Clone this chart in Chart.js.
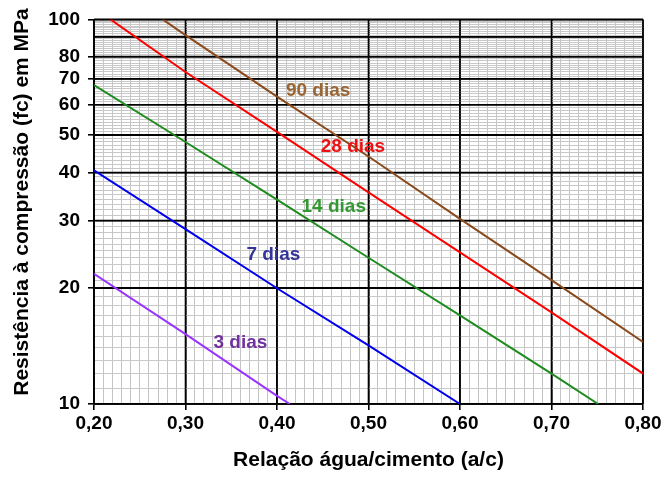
<!DOCTYPE html>
<html>
<head>
<meta charset="utf-8">
<script src="https://cdn.jsdelivr.net/npm/chart.js"></script>
<style>
  body { margin: 0; background: #fff; }
  #box { width: 672px; height: 487px; }
</style>
</head>
<body>
<div id="box"><canvas id="grafico"></canvas></div>
<script>
// curvas de Abrams (a/c -> fc em MPa)
const idades = ['90 dias', '28 dias', '14 dias', '7 dias', '3 dias'];

const ac90 = [0.275, 0.30, 0.40, 0.50, 0.60, 0.70, 0.80];
const fc90 = [100, 91, 63, 44, 30.3, 21, 14.5];

const ac28 = [0.218, 0.30, 0.40, 0.50, 0.60, 0.70, 0.80];
const fc28 = [100, 73, 51, 35.5, 24.8, 17.3, 12];

const ac14 = [0.20, 0.30, 0.40, 0.50, 0.60, 0.70, 0.751];
const fc14 = [67.5, 48, 34, 24, 17, 12, 10];

const ac7 = [0.20, 0.30, 0.40, 0.50, 0.60];
const fc7 = [40.5, 28.5, 20, 14.2, 10];

const ac3 = [0.20, 0.30, 0.40, 0.414];
const fc3 = [21.8, 15.2, 10.5, 10];

const yLabels = [10, 20, 30, 40, 50, 60, 70, 80, 100];
const xLabels = [0.2, 0.3, 0.4, 0.5, 0.6, 0.7, 0.8];

const corLinha = ['#8b4a1c', '#ff0000', '#1e8c1e', '#0000ee', '#9933ff'];
const corTexto = ['#996633', '#ee1111', '#339933', '#333399', '#7030a0'];
// onde fica cada rótulo (em unidades do gráfico)
const posRotulo = [[0.445, 65.2], [0.483, 46.7], [0.462, 32.5], [0.396, 24.4], [0.360, 14.4]];

function pontos(xs, ys) {
  return xs.map((x, i) => ({ x: x, y: ys[i] }));
}

const dados = [pontos(ac90, fc90), pontos(ac28, fc28), pontos(ac14, fc14), pontos(ac7, fc7), pontos(ac3, fc3)];

const fonte = 'Liberation Sans, Arial, sans-serif';
const tituloY = 'Resistência à compressão (fc) em MPa';

function isMajorY(v) { return Math.round(v) % 10 === 0; }
function isMajorX(v) { return Math.round(v * 100) % 10 === 0; }

// redesenha as linhas principais por cima da malha fina
const malhaPrincipal = {
  id: 'malhaPrincipal',
  beforeDatasetsDraw(chart) {
    const c = chart.ctx, a = chart.chartArea;
    const sx = chart.scales.x, sy = chart.scales.y;
    c.save();
    c.strokeStyle = '#000';
    c.lineWidth = 1.6;
    c.beginPath();
    sx.ticks.forEach(t => {
      if (!isMajorX(t.value)) return;
      const px = sx.getPixelForValue(t.value);
      c.moveTo(px, a.top); c.lineTo(px, a.bottom);
    });
    sy.ticks.forEach(t => {
      if (!isMajorY(t.value)) return;
      const py = sy.getPixelForValue(t.value);
      c.moveTo(a.left, py); c.lineTo(a.right, py);
    });
    c.stroke();
    c.restore();
  }
};

const rotulos = {
  id: 'rotulos',
  afterDatasetsDraw(chart) {
    const c = chart.ctx;
    c.save();
    c.font = 'bold 19px ' + fonte;
    c.textAlign = 'center';
    c.textBaseline = 'middle';
    idades.forEach((txt, i) => {
      const px = chart.scales.x.getPixelForValue(posRotulo[i][0]);
      const py = chart.scales.y.getPixelForValue(posRotulo[i][1]);
      c.fillStyle = corTexto[i];
      c.fillText(txt, px, py);
    });
    // título do eixo y
    c.translate(22, 202);
    c.rotate(-Math.PI / 2);
    c.font = 'bold 21px ' + fonte;
    c.fillStyle = '#000';
    c.fillText(tituloY, 0, 0);
    c.restore();
  }
};

new Chart(document.getElementById('grafico'), {
  type: 'line',
  data: {
    datasets: dados.map((d, i) => ({
      label: idades[i],
      data: d,
      borderColor: corLinha[i],
      borderWidth: 2,
      pointRadius: 0,
      tension: 0,
      fill: false
    }))
  },
  options: {
    responsive: true,
    maintainAspectRatio: false,
    animation: false,
    layout: { padding: { top: 17, right: 29, bottom: 0, left: 0 } },
    plugins: {
      legend: { display: false },
      tooltip: { enabled: false }
    },
    scales: {
      x: {
        type: 'linear',
        min: 0.2,
        max: 0.8,
        afterFit: function (s) { s.height = 83; },
        ticks: {
          stepSize: 0.01,
          autoSkip: false,
          maxRotation: 0,
          padding: 2,
          color: '#000',
          font: { family: fonte, size: 19, weight: 'bold' },
          callback: function (v) {
            if (!isMajorX(v)) return '';
            const x = xLabels.find(l => Math.abs(l - v) < 0.001);
            return x === undefined ? '' : x.toFixed(2).replace('.', ',');
          }
        },
        grid: {
          tickLength: 6,
          color: c => isMajorX(c.tick.value) ? '#000' : '#c4c4c4',
          lineWidth: c => isMajorX(c.tick.value) ? 1.6 : 1,
          tickColor: c => isMajorX(c.tick.value) ? '#000' : 'rgba(0,0,0,0)'
        },
        border: { color: '#000', width: 1.6 },
        title: {
          display: true,
          text: 'Relação água/cimento (a/c)',
          color: '#000',
          font: { family: fonte, size: 21, weight: 'bold' },
          padding: { top: 0, bottom: 14 }
        }
      },
      y: {
        type: 'logarithmic',
        min: 10,
        max: 100,
        afterFit: function (s) { s.width = 94; },
        afterBuildTicks: function (s) {
          const t = [];
          for (let v = 10; v <= 100; v++) t.push({ value: v });
          s.ticks = t;
        },
        ticks: {
          autoSkip: false,
          padding: 8,
          color: '#000',
          font: { family: fonte, size: 19, weight: 'bold' },
          callback: function (v) {
            return yLabels.indexOf(Math.round(v)) >= 0 ? String(Math.round(v)) : '';
          }
        },
        grid: {
          tickLength: 6,
          color: c => isMajorY(c.tick.value) ? '#000' : '#c8c8c8',
          lineWidth: c => isMajorY(c.tick.value) ? 1.6 : 1,
          tickColor: c => yLabels.indexOf(Math.round(c.tick.value)) >= 0 ? '#000' : 'rgba(0,0,0,0)'
        },
        border: { color: '#000', width: 1.6 },
        title: { display: false }
      }
    }
  },
  plugins: [malhaPrincipal, rotulos]
});
</script>
</body>
</html>
